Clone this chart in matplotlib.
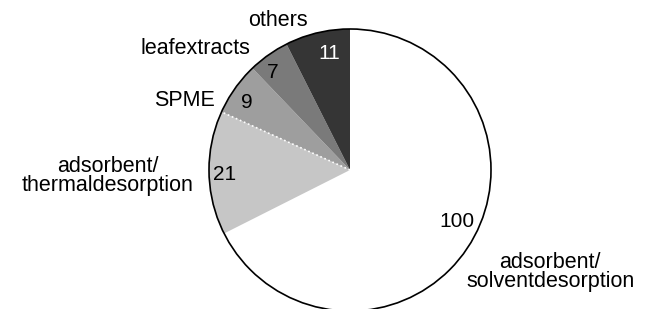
import numpy as np
import matplotlib.pyplot as plt
from matplotlib.patches import Circle

plt.rcParams['font.family'] = ['Liberation Sans', 'DejaVu Sans']

# data, clockwise from 12 o'clock
categories = ["adsorbent/\nsolventdesorption", "adsorbent/\nthermaldesorption",
              "SPME", "leafextracts", "others"]
counts = [100, 21, 9, 7, 11]
colors = ["#ffffff", "#c6c6c6", "#9e9e9e", "#7a7a7a", "#353535"]
count_colors = ["black", "black", "black", "black", "white"]

W, H = 645, 309
CX, CY, R = 350, 170, 141   # pie centre / radius in pixels


def px(x, y):
    """pixel position -> data units of the pie axes"""
    return (x - CX) / R, (CY - y) / R


fig = plt.figure(figsize=(W / 100, H / 100), dpi=100)
ax = fig.add_axes((0, 0, 1, 1))

wedges, _ = ax.pie(counts, colors=colors, startangle=90, counterclock=False,
                   radius=1, wedgeprops=dict(linewidth=0, edgecolor='none'))

ax.set_xlim(-CX / R, (W - CX) / R)
ax.set_ylim(-(H - CY) / R, CY / R)
ax.set_aspect('equal')
ax.axis('off')

# black outer rim
ax.add_patch(Circle((0, 0), 1, fill=False, edgecolor='black', linewidth=1.2, zorder=3))

# white dotted seam between the thermal desorption and SPME wedges
th = np.deg2rad(wedges[1].theta1)
ax.plot([0, np.cos(th)], [0, np.sin(th)], color='white', linestyle=':',
        linewidth=1.2, zorder=2)

# counts inside the wedges (small nudges off the mid angle, as in the original)
nudge_deg = [6, 1, 2, 3, -3.5]
nudge_r = [0.84, 0.89, 0.875, 0.88, 0.84]
for w, n, c, da, r in zip(wedges, counts, count_colors, nudge_deg, nudge_r):
    mid = np.deg2rad((w.theta1 + w.theta2) / 2 + da)
    ax.text(r * np.cos(mid), r * np.sin(mid), str(n), ha='center', va='center',
            fontsize=15, color=c)

# category labels
label_pos = [
    (466, 272, 'left'),
    (194, 176, 'right'),
    (215, 101, 'right'),
    (250, 49, 'right'),
    (278, 21, 'center'),
]
for name, (x, y, ha) in zip(categories, label_pos):
    ax.text(*px(x, y), name, ha=ha, va='center', fontsize=15.5,
            linespacing=0.9, multialignment='center')

fig.savefig("out.png", dpi=100)
